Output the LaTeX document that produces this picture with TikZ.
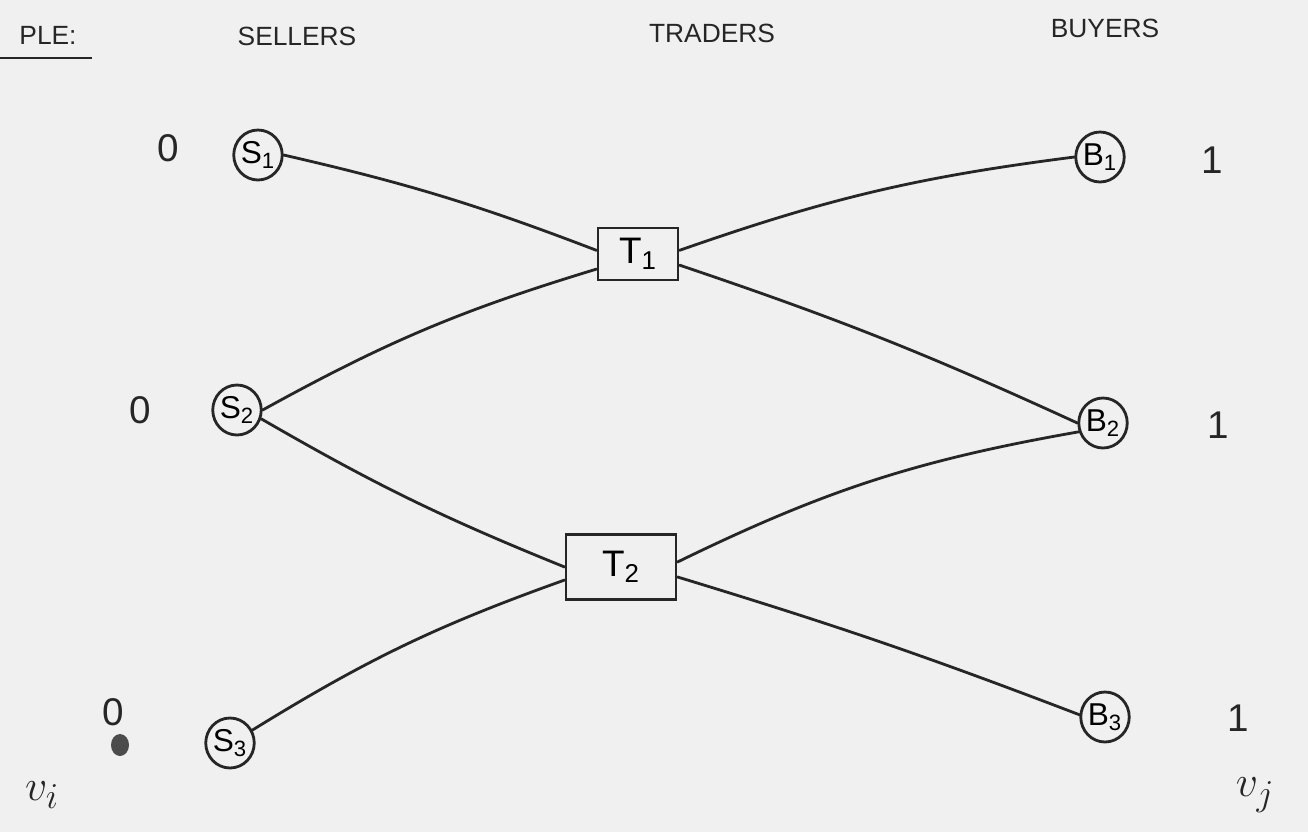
\documentclass[tikz,border=0pt]{standalone}
\usepackage{fontspec}
\setmainfont{Liberation Sans}
\usetikzlibrary{shapes.geometric}
\begin{document}
\begin{tikzpicture}[x=0.02cm,y=-0.02cm,
  ink/.style={line width=1.6pt,draw=black!85},
  agent/.style={ink,ellipse,minimum width=0.94cm,minimum height=1.0cm,inner sep=0pt,font=\fontsize{18}{18}\selectfont},
  trader/.style={ink,rectangle,inner sep=0pt,font=\fontsize{21}{21}\selectfont},
  head/.style={font=\fontsize{15}{15}\selectfont,text=black!85},
  val/.style={font=\fontsize{22}{22}\selectfont,text=black!85},
  link/.style={ink,line cap=round}]
\useasboundingbox (0,0) rectangle (1308,832);
\fill[white!94!black] (0,0) rectangle (1308,832);

% column headings
\node[head] (ple) at (48,35) {PLE:};
\coordinate (ulA) at (0,58);
\coordinate (ulB) at (92,58);
\draw[ink] (ulA) -- (ulB);
\node[head] (hsell) at (297,36) {SELLERS};
\node[head] (htrad) at (712,33) {TRADERS};
\node[head] (hbuy) at (1105,28) {BUYERS};

% sellers
\node[agent] (s1) at (258,155) {S\textsubscript{1}};
\node[agent] (s2) at (237,410) {S\textsubscript{2}};
\node[agent] (s3) at (230,743) {S\textsubscript{3}};
% buyers
\node[agent] (b1) at (1100,157) {B\textsubscript{1}};
\node[agent] (b2) at (1103,423) {B\textsubscript{2}};
\node[agent] (b3) at (1105,717) {B\textsubscript{3}};
% traders
\node[trader,minimum width=1.6cm,minimum height=1.04cm] (t1) at (638,254) {T\textsubscript{1}};
\node[trader,minimum width=2.2cm,minimum height=1.3cm] (t2) at (621,567) {T\textsubscript{2}};

% values
\node[val] (v1) at (168,148) {0};
\node[val] (v2) at (140,410) {0};
\node[val] (v3) at (113,712) {0};
\node[val] (w1) at (1212,160) {1};
\node[val] (w2) at (1218,425) {1};
\node[val] (w3) at (1238,718) {1};
\fill[black!70] (120,745) ellipse (9 and 11);
\node[val,font=\fontsize{28}{28}\selectfont] (vi) at (42,795) {$v_{i}$};
\node[val,font=\fontsize{28}{28}\selectfont] (vj) at (1255,795) {$v_{j}$};

% trading links
\draw[link] (s1.east) to[bend left=4] (t1.175);
\draw[link] (s2.east) to[bend left=6] (t1.200);
\draw[link] (b1.west) to[bend right=6] (t1.5);
\draw[link] (t1.345) to[bend left=3] (b2.west);
\draw[link] (s2.-20) to[bend right=4] (t2.180);
\draw[link] (s3.30) to[bend left=6] (t2.193);
\draw[link] (b2.200) to[bend right=8] (t2.5);
\draw[link] (t2.350) to[bend left=2] (b3.175);
\end{tikzpicture}
\end{document}
